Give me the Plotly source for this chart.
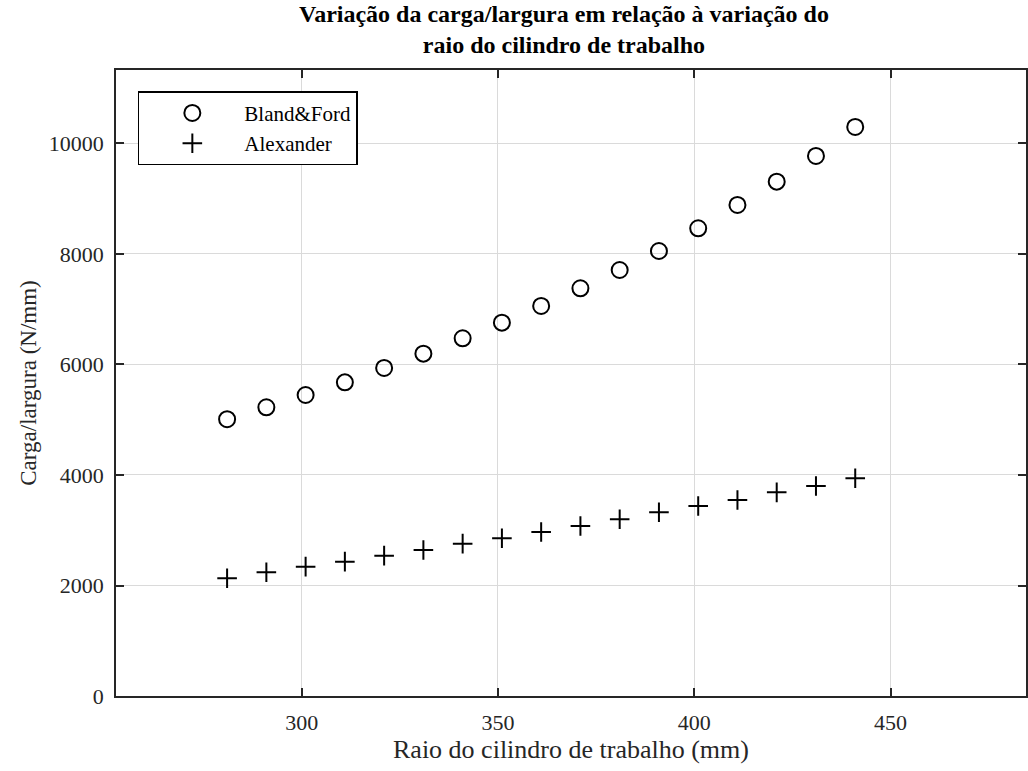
import plotly.graph_objects as go

# Raio do cilindro de trabalho (mm)
raio = [281, 291, 301, 311, 321, 331, 341, 351, 361, 371, 381, 391, 401, 411, 421, 431, 441]

# Carga/largura (N/mm) por modelo
bland_ford = [5010, 5225, 5448, 5677, 5937, 6196, 6474, 6757, 7059, 7379, 7710, 8054,
              8465, 8887, 9309, 9774, 10299]
alexander = [2130, 2239, 2341, 2432, 2540, 2643, 2757, 2854, 2968, 3077, 3198, 3325,
             3439, 3548, 3686, 3801, 3940]

title_lines = ["Variação da carga/largura em relação à variação do",
               "raio do cilindro de trabalho"]

FONT = "Liberation Serif"
AXIS_COLOR = "#262626"
GRID_COLOR = "#dadada"

fig = go.Figure()
fig.add_trace(go.Scatter(
    x=raio, y=bland_ford, mode="markers", name="Bland&Ford",
    marker=dict(symbol="circle-open", size=16, color="black",
                line=dict(width=2, color="black")),
))
fig.add_trace(go.Scatter(
    x=raio, y=alexander, mode="markers", name="Alexander",
    marker=dict(symbol="cross-thin-open", size=14, color="black",
                line=dict(width=2, color="black")),
))

axis_common = dict(
    showline=True, linecolor=AXIS_COLOR, linewidth=1.5, mirror="ticks",
    ticks="inside", ticklen=8, tickwidth=1.5, tickcolor=AXIS_COLOR,
    showgrid=True, gridcolor=GRID_COLOR, gridwidth=1, zeroline=False,
    tickfont=dict(family=FONT, size=22, color="#262626"),
    tickformat="d", ticklabelstandoff=6,
)

fig.update_layout(
    width=1028, height=771,
    margin=dict(l=116, r=0, t=70, b=75),
    paper_bgcolor="white", plot_bgcolor="white",
    xaxis=dict(
        range=[252.7, 484.5], dtick=50, tick0=0,
        title=dict(text="Raio do cilindro de trabalho (mm)", standoff=5,
                   font=dict(family=FONT, size=26, color="#262626")),
        **axis_common,
    ),
    yaxis=dict(
        range=[0, 11330], dtick=2000, tick0=0,
        title=dict(text="Carga/largura (N/mm)", standoff=6,
                   font=dict(family=FONT, size=23, color="#262626")),
        **axis_common,
    ),
    legend=dict(
        x=0.024, xanchor="left", y=0.966, yanchor="top",
        bgcolor="white", bordercolor="black", borderwidth=1.5,
        font=dict(family=FONT, size=21, color="black"),
        indentation=1, itemwidth=94,
    ),
    showlegend=True,
)

# Two-line bold title centred over the plotting area
fig.add_annotation(
    text="<b>" + "<br>".join(title_lines) + "</b>",
    xref="paper", yref="paper",
    x=0.492, y=(696 - 29) / 626, xanchor="center", yanchor="middle",
    showarrow=False, font=dict(family=FONT, size=24, color="black"),
)

fig.write_html("out.html")
